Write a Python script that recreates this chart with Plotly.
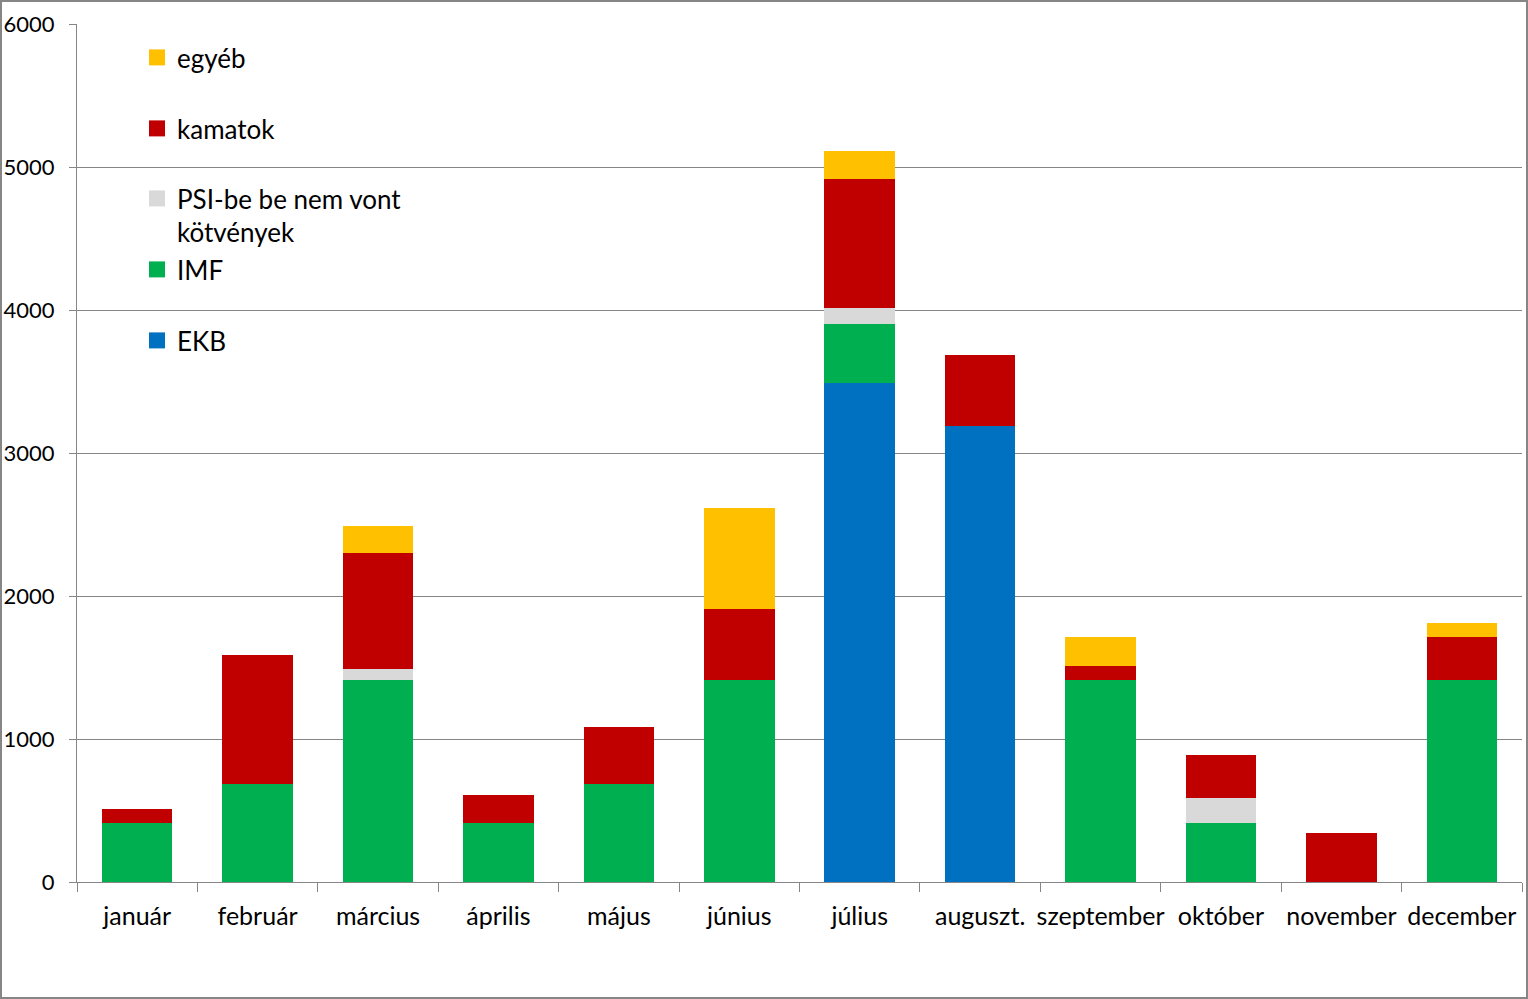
import plotly.graph_objects as go

months = ["január", "február", "március", "április", "május", "június",
          "július", "auguszt.", "szeptember", "október", "november", "december"]

# stacked components (bottom to top)
ekb      = [0, 0, 0, 0, 0, 0, 3490, 3190, 0, 0, 0, 0]
imf      = [413, 686, 1413, 413, 686, 1413, 412, 0, 1413, 414, 0, 1413]
psi      = [0, 0, 79, 0, 0, 0, 112, 0, 0, 173, 0, 0]
kamatok  = [98, 904, 812, 196, 399, 497, 902, 495, 97, 301, 343, 300]
egyeb    = [0, 0, 189, 0, 0, 707, 196, 0, 203, 0, 0, 98]

series = [
    ("EKB", ekb, "#0070C0"),
    ("IMF", imf, "#00B050"),
    ("PSI-be be nem vont<br>kötvények", psi, "#D9D9D9"),
    ("kamatok", kamatok, "#C00000"),
    ("egyéb", egyeb, "#FFC000"),
]

FONT = "Lato, 'Noto Sans', sans-serif"
W, H = 1528, 999
ML, MR, MT, MB = 77, 6, 24, 117
PW, PH = W - ML - MR, H - MT - MB

# legend text-centre y positions in pixels
legend_y_px = {"egyéb": 58, "kamatok": 129, "PSI-be be nem vont<br>kötvények": 199, "IMF": 270, "EKB": 341}

fig = go.Figure()
legend_names = ["legend", "legend2", "legend3", "legend4", "legend5"]
layout_legends = {}
for i, (name, vals, col) in enumerate(series):
    lg = legend_names[i]
    fig.add_trace(go.Bar(
        x=months, y=vals, name=name, marker=dict(color=col, line=dict(width=0)),
        legendgroup=name, showlegend=False,
    ))
    # legend entry with a larger square key
    fig.add_trace(go.Scatter(
        x=[None], y=[None], mode="markers", name=name, legendgroup=name,
        marker=dict(symbol="square", size=16, color=col, line=dict(width=0)),
        legend=lg, showlegend=True, hoverinfo="skip",
    ))
    ypx = legend_y_px[name]
    ypaper = 1 - (ypx - MT) / PH
    layout_legends[lg] = dict(
        x=(137 - ML) / PW, xanchor="left",
        y=ypaper + 24 / PH, yanchor="top",
        bgcolor="rgba(0,0,0,0)", borderwidth=0,
        font=dict(family=FONT, size=26, color="#000000"),
        valign="top", itemclick=False, itemdoubleclick=False,
    )

fig.update_layout(
    width=W, height=H,
    margin=dict(l=ML, r=MR, t=MT, b=MB, autoexpand=False),
    barmode="stack", bargap=0.415,
    paper_bgcolor="white", plot_bgcolor="white",
    font=dict(family=FONT, size=22, color="#000000"),
    showlegend=True,
    **layout_legends,
)
fig.update_xaxes(
    showline=True, linecolor="#868686", linewidth=1,
    ticks="outside", tickson="boundaries", ticklen=9, tickcolor="#868686",
    tickfont=dict(family=FONT, size=25, color="#000000"),
    tickangle=0, automargin=False,
    ticklabelstandoff=12,
    showgrid=False,
)
fig.update_yaxes(
    range=[0, 6000], dtick=1000, tick0=0,
    showline=True, linecolor="#868686", linewidth=1,
    ticks="outside", ticklen=7, tickcolor="#868686",
    gridcolor="#868686", gridwidth=1,
    tickfont=dict(family=FONT, size=22, color="#000000"),
    ticklabelstandoff=10, automargin=False,
    zeroline=False,
)
# outer frame of the picture
fig.add_shape(type="rect", xref="paper", yref="paper",
              x0=-(ML - 1) / PW, x1=1 + (MR - 1) / PW,
              y0=-(MB - 1) / PH, y1=1 + (MT - 1) / PH,
              line=dict(color="#868686", width=2), fillcolor="rgba(0,0,0,0)", layer="below")

fig.write_html("out.html")
